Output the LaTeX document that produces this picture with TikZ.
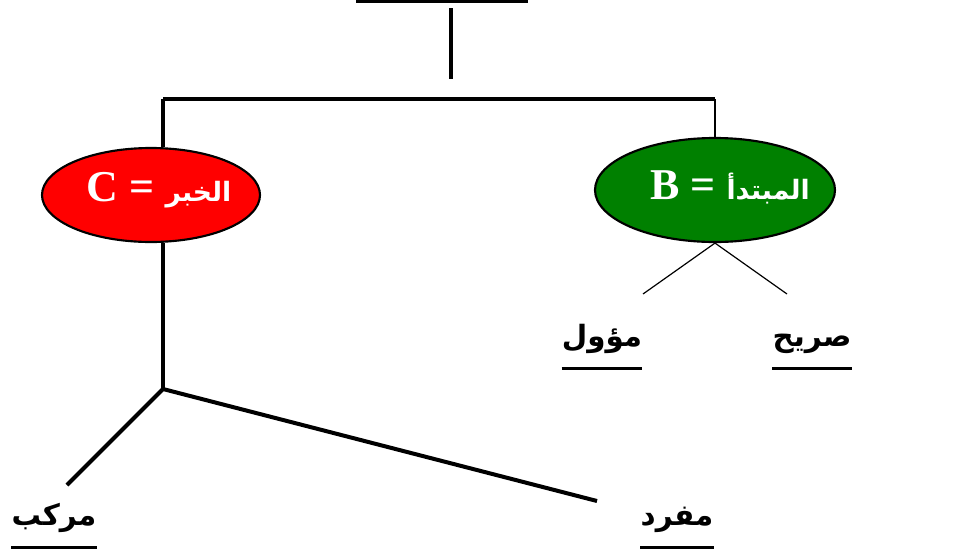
\documentclass[tikz,border=0pt]{standalone}
\usepackage{fontspec}
\setmainfont{Liberation Serif}
\newfontfamily\arabicfont[Script=Arabic]{DejaVu Sans}
\TeXXeTstate=1
\usetikzlibrary{shapes.geometric}

\tikzset{
  thickln/.style={line width=3pt},
  thinln/.style={line width=0.9pt},
  oval/.style={ellipse, draw=black, line width=1.6pt, inner sep=0pt, text=white, font=\bfseries},
  leaf/.style={anchor=base, inner xsep=0pt, inner ysep=0pt, font=\arabicfont\bfseries\fontsize{22}{26}\selectfont},
  ul/.style={line width=2.4pt}
}

\begin{document}
\begin{tikzpicture}[x=0.75pt,y=-0.75pt]
			%%%%% START %%%%%
			\useasboundingbox (0,0) rectangle (974,554);
			
			% cut-off title and stem
			\coordinate (tl) at (356,1);
			\coordinate (tr) at (528,1);
			\draw[ul] (tl) -- (tr);
			\coordinate (stemtop) at (451,8);
			\coordinate (stembot) at (451,79);
			\draw[thickln] (stemtop) -- (stembot);
			
			\coordinate (barl) at (163,99);
			\coordinate (barr) at (715,99);
			\draw[thickln] (barl) -- (barr);
			
			% the two ovals
			\node[oval, fill=red, minimum width=163.5pt, minimum height=70.5pt] (khabar) at (151,195) {};
			\node[text=white, font=\bfseries, inner sep=0pt] (khabartxt) at (159,190)
			  {\fontsize{33}{36}\selectfont C = {\arabicfont\fontsize{20}{22}\selectfont\beginR الخبر\endR}};
			\node[oval, fill=green!50!black, minimum width=180pt, minimum height=78pt] (mubtada) at (715,190) {};
			\node[text=white, font=\bfseries, inner sep=0pt] (mubtadatxt) at (730,187)
			  {\fontsize{33}{36}\selectfont B = {\arabicfont\fontsize{20}{22}\selectfont\beginR المبتدأ\endR}};
			
			\draw[thickln] (barl) -- (barl |- khabar.north);
			\draw[thinln] (barr) -- (mubtada.north);
			
			% khabar branch
			\coordinate (knee) at (163,389);
			\coordinate (kl) at (67,485);
			\coordinate (kr) at (597,501);
			\draw[thickln] (khabar.south -| knee) -- (knee);
			\draw[thickln] (kl) -- (knee) -- (kr);
			
			\node[leaf] (murakkab) at (54,525) {\beginR مركب\endR};
			\node[leaf] (mufrad) at (677,525) {\beginR مفرد\endR};
			\draw[ul] ([yshift=-17pt]murakkab.base west) -- ([yshift=-17pt]murakkab.base east);
			\draw[ul] ([yshift=-17pt]mufrad.base west) -- ([yshift=-17pt]mufrad.base east);
			
			% mubtada branch
			\coordinate (ml) at (643,294);
			\coordinate (mr) at (787,294);
			\draw[thinln] (ml) -- (mubtada.south) -- (mr);
			
			\node[leaf] (muawwal) at (602,346) {\beginR مؤول\endR};
			\node[leaf] (sarih) at (812,346) {\beginR صريح\endR};
			\draw[ul] ([yshift=-17pt]muawwal.base west) -- ([yshift=-17pt]muawwal.base east);
			\draw[ul] ([yshift=-17pt]sarih.base west) -- ([yshift=-17pt]sarih.base east);
			%%%%% END %%%%%
\end{tikzpicture}
\end{document}
